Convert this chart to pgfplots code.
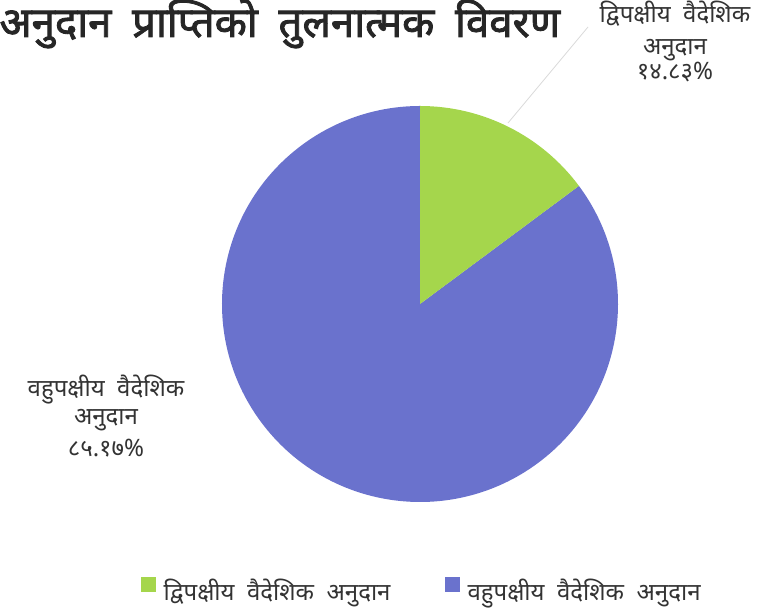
\documentclass[border=0pt]{standalone}
\usepackage{pgfplots}
\usepackage{pgfplotstable}
\pgfplotsset{compat=1.18}
\usepackage{fontspec}
\setmainfont[Script=Devanagari, WordSpace=2]{Noto Sans}
\newfontfamily\titlefont[Script=Devanagari, WordSpace=1.9, FakeBold=2]{Noto Sans}
\definecolor{pgreen}{HTML}{A5D64C}
\definecolor{pblue}{HTML}{6A72CD}
\pgfplotstableread{
share
14.83
85.17
}\piedata
\begin{document}
\begin{tikzpicture}
\pgfplotstablegetelem{0}{share}\of\piedata
\pgfmathsetmacro\angA{90-3.6*\pgfplotsretval}
\begin{axis}[
  scale only axis, width=761pt, height=609pt,
  xmin=0, xmax=761, ymin=0, ymax=609,
  hide axis, clip=false,
  legend columns=2,
  legend style={at={(0.554,0.03)}, anchor=center, draw=none, fill=none,
    font=\fontsize{24}{28}\selectfont, text=black!80,
    /tikz/every even column/.append style={column sep=52pt}},
  legend image code/.code={\path[draw=none,fill=none] (0pt,0pt) rectangle (21pt,1pt);\fill[#1,draw=none] (0pt,-1pt) rectangle (15pt,14pt);},
]
\coordinate (SW) at (axis cs:0,0);
\coordinate (NE) at (axis cs:761,609);
\fill[pblue] (axis cs:420,305) -- ++(\angA:198pt) arc[start angle=\angA, end angle=-270, radius=198pt] -- cycle;
\fill[pgreen] (axis cs:420,305) -- ++(90:198pt) arc[start angle=90, end angle=\angA, radius=198pt] -- cycle;
\draw[black!15, line width=0.8pt] (axis cs:588,582) -- (axis cs:508,486);
\addlegendimage{fill=pgreen}
\addlegendentry{द्विपक्षीय वैदेशिक अनुदान}
\addlegendimage{fill=pblue}
\addlegendentry{वहुपक्षीय वैदेशिक अनुदान}
\node[anchor=base west, font=\titlefont\fontsize{42}{48}\selectfont, text=black!85] at (axis cs:-4,572) {अनुदान प्राप्तिको तुलनात्मक विवरण};
\begin{scope}[every node/.style={anchor=base, font=\fontsize{24}{28}\selectfont, text=black!80}]
\node at (axis cs:675,586) {द्विपक्षीय वैदेशिक};
\node at (axis cs:675,554) {अनुदान};
\node at (axis cs:675,529) {१४.८३\%};
\node at (axis cs:106,212) {वहुपक्षीय वैदेशिक};
\node at (axis cs:106,184) {अनुदान};
\node at (axis cs:106,152) {८५.१७\%};
\end{scope}
\end{axis}
\pgfresetboundingbox
\useasboundingbox (SW) rectangle (NE);
\end{tikzpicture}
\end{document}
